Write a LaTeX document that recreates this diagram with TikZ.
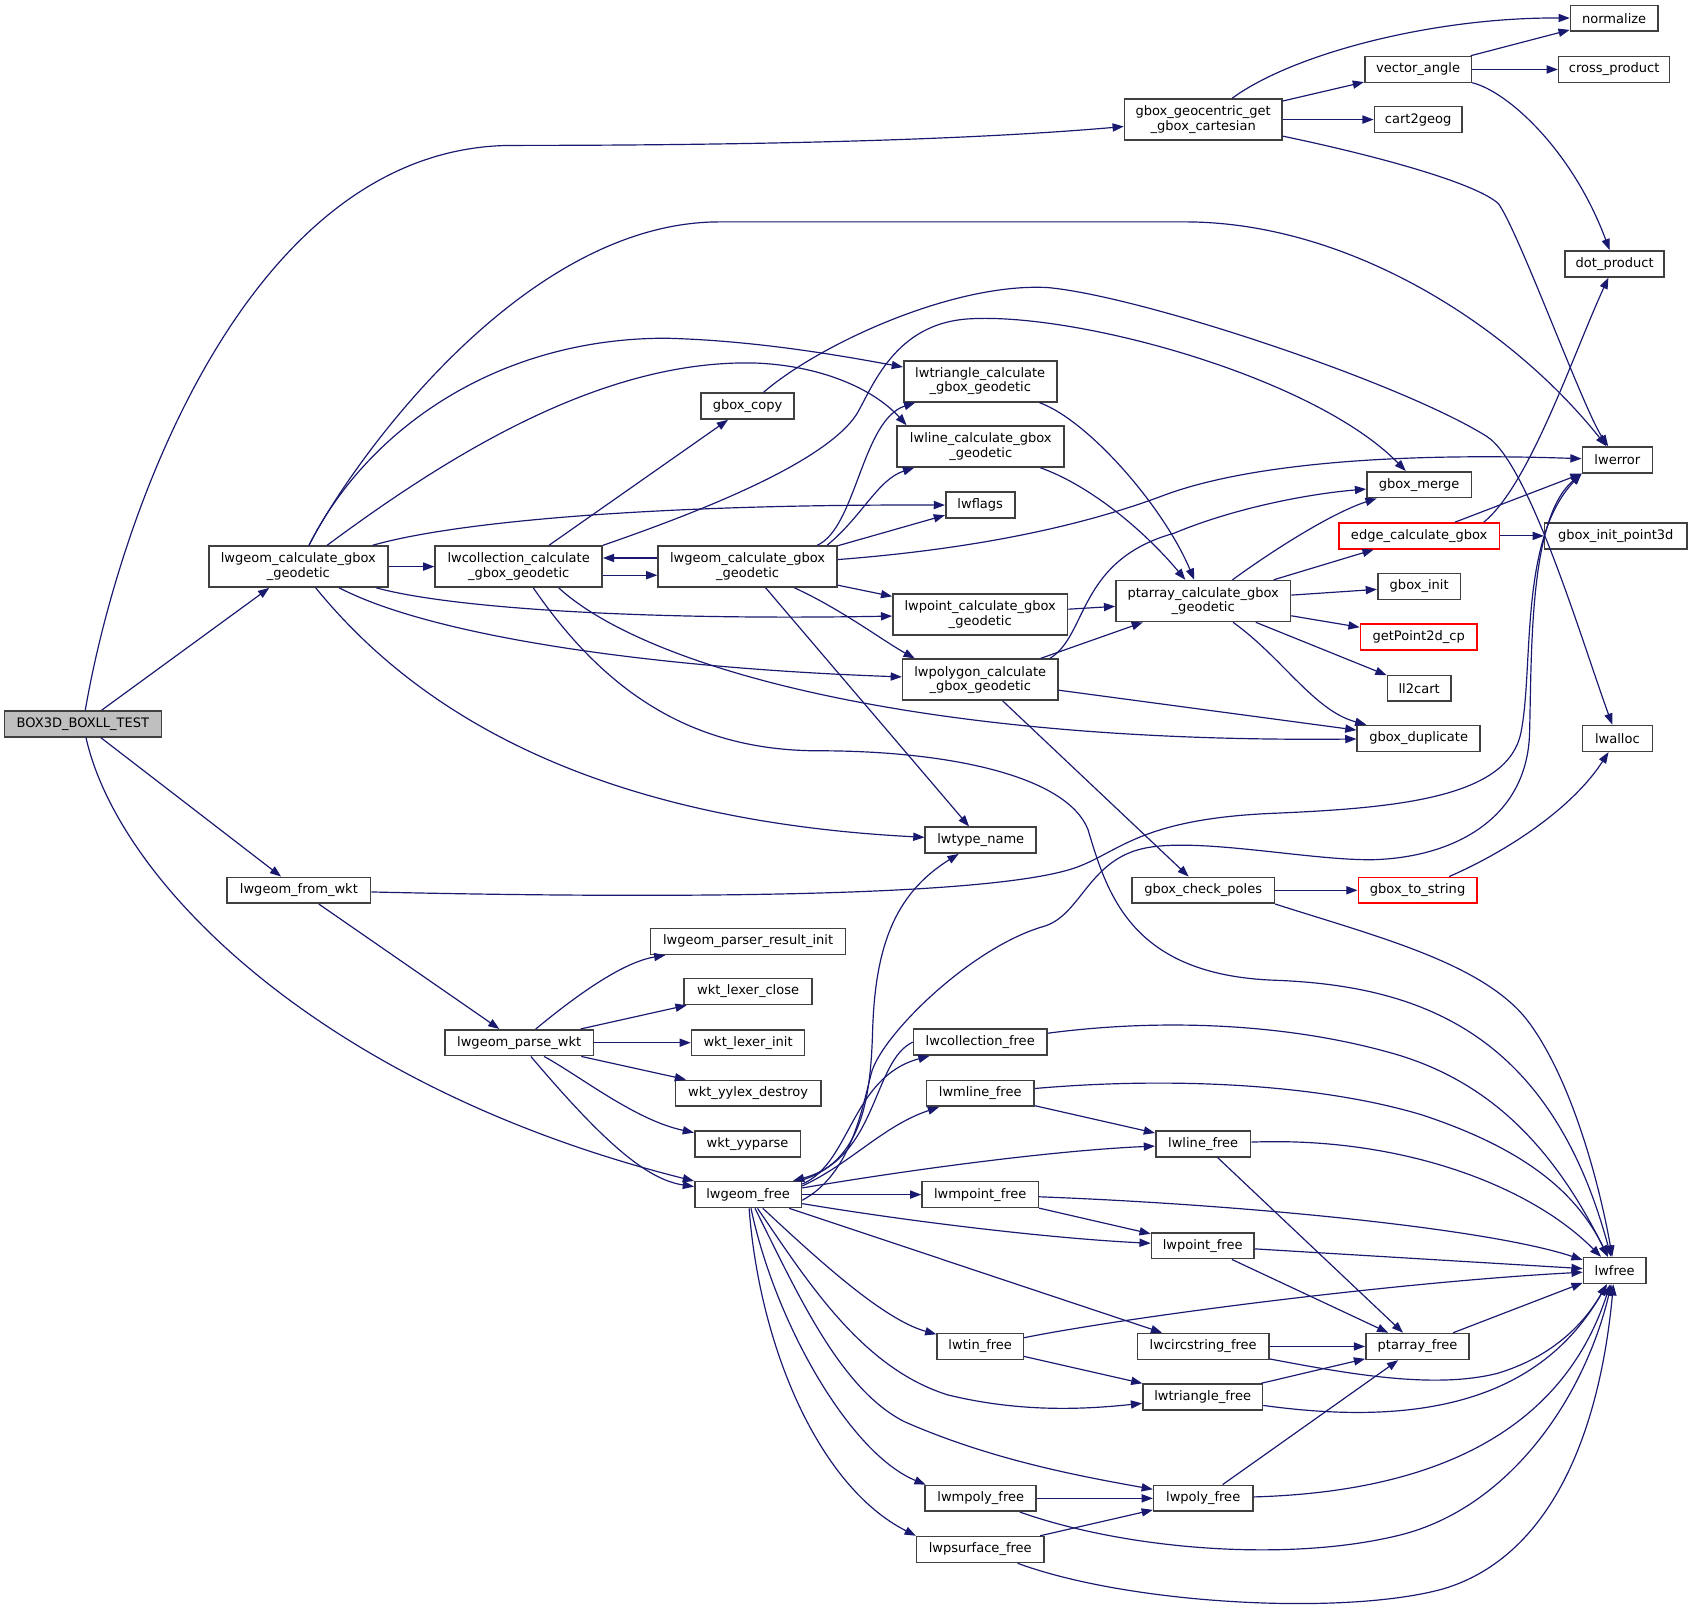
\documentclass[tikz,border=0pt]{standalone}
\usepackage{fontspec}
\newfontfamily\dvs{DejaVu Sans}
\usetikzlibrary{arrows.meta,calc}
\definecolor{edgeblue}{HTML}{191970}
\definecolor{boxline}{HTML}{404040}
\definecolor{boxgray}{HTML}{BFBFBF}
\begin{document}
\begin{tikzpicture}[x=0.5pt,y=-0.5pt,
  fn/.style={draw=boxline, line width=0.75pt, fill=white, inner sep=0pt, align=center,
    font=\dvs\fontsize{6.05}{6.6}\selectfont, minimum height=12pt},
  two/.style={minimum height=19pt},
  bw/.style={minimum width=#1*0.5pt},
  redbox/.style={draw=red},
  cedge/.style={draw=edgeblue, line width=0.55pt, -{Triangle[length=5.2pt,width=3.8pt]}},
]
\useasboundingbox (0,0) rectangle (1568,1496.6);
% ---------------- nodes
\node[fn, fill=boxgray, bw=146] (box3d) at (77,672) {BOX3D\_BOXLL\_TEST};
\node[fn, two, bw=146] (geoc) at (1117,111) {gbox\_geocentric\_get\\\_gbox\_cartesian};
\node[fn, bw=81] (normalize) at (1498.5,17) {normalize};
\node[fn, bw=99] (vecang) at (1316.5,64.5) {vector\_angle};
\node[fn, bw=103] (cross) at (1498.5,64.5) {cross\_product};
\node[fn, bw=81] (cart) at (1316.5,111) {cart2geog};
\node[fn, bw=92] (dot) at (1499,245) {dot\_product};
\node[fn, bw=65] (lwerror) at (1501.5,427) {lwerror};
\node[fn, two, bw=142] (tricalc) at (910,354) {lwtriangle\_calculate\\\_gbox\_geodetic};
\node[fn, bw=86] (gboxcopy) at (694,377) {gbox\_copy};
\node[fn, two, bw=155] (linecalc) at (910.5,414.5) {lwline\_calculate\_gbox\\\_geodetic};
\node[fn, bw=97] (gboxmerge) at (1317.5,450) {gbox\_merge};
\node[fn, bw=64] (lwflags) at (910,469) {lwflags};
\node[fn, redbox, bw=149] (edgecalc) at (1317.5,497.5) {edge\_calculate\_gbox};
\node[fn, bw=132] (initp3d) at (1500,497.5) {gbox\_init\_point3d};
\node[fn, two, bw=166] (L1) at (277,526) {lwgeom\_calculate\_gbox\\\_geodetic};
\node[fn, two, bw=155] (coll) at (481.5,526) {lwcollection\_calculate\\\_gbox\_geodetic};
\node[fn, two, bw=166] (M) at (694,526) {lwgeom\_calculate\_gbox\\\_geodetic};
\node[fn, two, bw=162] (pointcalc) at (910,570.5) {lwpoint\_calculate\_gbox\\\_geodetic};
\node[fn, two, bw=162] (ptarraycalc) at (1117,558) {ptarray\_calculate\_gbox\\\_geodetic};
\node[fn, bw=77] (gboxinit) at (1317.5,544.5) {gbox\_init};
\node[fn, redbox, bw=108] (getpoint) at (1317,591.5) {getPoint2d\_cp};
\node[fn, two, bw=144] (polycalc) at (910,631) {lwpolygon\_calculate\\\_gbox\_geodetic};
\node[fn, bw=59] (ll2cart) at (1317.5,639) {ll2cart};
\node[fn, bw=114] (gboxdup) at (1317,685.5) {gbox\_duplicate};
\node[fn, bw=65] (lwalloc) at (1501.5,685.5) {lwalloc};
\node[fn, bw=103] (lwtype) at (910.5,780) {lwtype\_name};
\node[fn, bw=133] (fromwkt) at (277.5,826.5) {lwgeom\_from\_wkt};
\node[fn, bw=132] (checkpoles) at (1117,826.5) {gbox\_check\_poles};
\node[fn, redbox, bw=110] (tostring) at (1316,826.5) {gbox\_to\_string};
\node[fn, bw=181] (parserinit) at (694.5,874) {lwgeom\_parser\_result\_init};
\node[fn, bw=119] (lexclose) at (694.5,920.5) {wkt\_lexer\_close};
\node[fn, bw=138] (parsewkt) at (482,968) {lwgeom\_parse\_wkt};
\node[fn, bw=105] (lexinit) at (694.5,968) {wkt\_lexer\_init};
\node[fn, bw=124] (collfree) at (910,967.5) {lwcollection\_free};
\node[fn, bw=135] (yylex) at (694.5,1015) {wkt\_yylex\_destroy};
\node[fn, bw=100] (mlinefree) at (910,1015) {lwmline\_free};
\node[fn, bw=98] (yyparse) at (694,1062) {wkt\_yyparse};
\node[fn, bw=88] (linefree) at (1117,1062) {lwline\_free};
\node[fn, bw=99] (geomfree) at (694.5,1109) {lwgeom\_free};
\node[fn, bw=108] (mpointfree) at (910,1109) {lwmpoint\_free};
\node[fn, bw=95] (pointfree) at (1116.5,1156.5) {lwpoint\_free};
\node[fn, bw=58] (lwfree) at (1499,1179.5) {lwfree};
\node[fn, bw=80] (tinfree) at (910,1250) {lwtin\_free};
\node[fn, bw=122] (circfree) at (1117,1250) {lwcircstring\_free};
\node[fn, bw=96] (ptarrayfree) at (1316,1250) {ptarray\_free};
\node[fn, bw=111] (trifree) at (1116.5,1297) {lwtriangle\_free};
\node[fn, bw=103] (mpolyfree) at (910.5,1391) {lwmpoly\_free};
\node[fn, bw=92] (polyfree) at (1117,1391) {lwpoly\_free};
\node[fn, bw=118] (psurffree) at (910,1438.5) {lwpsurface\_free};
% ---------------- edges
% BOX3D_BOXLL_TEST
\draw[cedge] (box3d) .. controls (110,480) and (230,135) .. (476,135) .. controls (700,135) and (900,130) .. (geoc);
\draw[cedge] (box3d) -- (L1);
\draw[cedge] (box3d) -- (fromwkt);
\draw[cedge] (box3d) .. controls (110,820) and (300,1010) .. (geomfree);
% gbox_geocentric_get_gbox_cartesian
\draw[cedge] (geoc) .. controls (1200,50) and (1330,16) .. (normalize);
\draw[cedge] (geoc) -- (vecang);
\draw[cedge] (geoc) -- (cart);
\draw[cedge] (geoc) .. controls (1280,145) and (1370,170) .. (1391,189) .. controls (1410,215) and (1470,380) .. (lwerror);
% vector_angle
\draw[cedge] (vecang) -- (normalize);
\draw[cedge] (vecang) -- (cross);
\draw[cedge] (vecang) .. controls (1400,85) and (1460,140) .. (dot);
% lwgeom_calculate_gbox_geodetic (left)
\draw[cedge] (L1) .. controls (320,440) and (480,206) .. (668,206) -- (1100,206) .. controls (1250,206) and (1400,300) .. (lwerror);
\draw[cedge] (L1) .. controls (340,400) and (460,314) .. (618,314) .. controls (700,316) and (780,330) .. (tricalc);
\draw[cedge] (L1) .. controls (420,420) and (560,334) .. (700,337) .. controls (760,339) and (810,360) .. (linecalc.164);
\draw[cedge] (L1) .. controls (420,485) and (600,468) .. (lwflags);
\draw[cedge] (L1) -- (coll);
\draw[cedge] (L1) .. controls (420,565) and (600,576) .. (pointcalc);
\draw[cedge] (L1) .. controls (400,590) and (600,620) .. (polycalc);
\draw[cedge] (L1) .. controls (370,640) and (520,760) .. (lwtype);
% lwcollection_calculate_gbox_geodetic
\draw[cedge] (coll) -- (gboxcopy);
\draw[cedge] (coll.north east) .. controls (650,475) and (765,430) .. (795,385) .. controls (810,360) and (830,300) .. (900,296) .. controls (1000,290) and (1220,350) .. (gboxmerge);
\draw[cedge] ($(coll.east)+(0,8)$) -- ($(M.west)+(0,8)$);
\draw[cedge] (coll.-28) .. controls (600,620) and (850,690) .. (gboxdup);
\draw[cedge] (coll) .. controls (560,640) and (640,697) .. (760,697) .. controls (880,697) and (990,720) .. (1010,770) .. controls (1028,830) and (1050,905) .. (1183,910) .. controls (1320,915) and (1440,960) .. (lwfree);
% lwgeom_calculate_gbox_geodetic (middle)
\draw[cedge] ($(M.west)+(0,-8)$) -- ($(coll.east)+(0,-8)$);
\draw[cedge] (M.17) .. controls (795,490) and (800,390) .. (tricalc);
\draw[cedge] (M.15) .. controls (800,480) and (815,445) .. (linecalc);
\draw[cedge] (M.13) -- (lwflags);
\draw[cedge] (M) .. controls (900,510) and (1000,490) .. (1080,460) .. controls (1160,430) and (1300,420) .. (lwerror);
\draw[cedge] (M) -- (pointcalc);
\draw[cedge] (M) .. controls (780,565) and (820,595) .. (polycalc.162);
\draw[cedge] (M) -- (lwtype);
% gbox_copy
\draw[cedge] (gboxcopy) .. controls (760,320) and (885,262) .. (973,267) .. controls (1060,275) and (1300,355) .. (1380,405) .. controls (1420,430) and (1470,600) .. (lwalloc);
% second-level calculators
\draw[cedge] (tricalc) .. controls (1010,390) and (1080,470) .. (ptarraycalc);
\draw[cedge] (linecalc) .. controls (1010,450) and (1060,490) .. (ptarraycalc);
\draw[cedge] (pointcalc) -- (ptarraycalc);
\draw[cedge] (polycalc) -- (ptarraycalc);
\draw[cedge] (polycalc.17) .. controls (1010,590) and (1000,520) .. (1090,495) .. controls (1150,470) and (1220,458) .. (gboxmerge);
\draw[cedge] (polycalc) -- (gboxdup);
\draw[cedge] (polycalc) -- (checkpoles);
% ptarray_calculate_gbox_geodetic
\draw[cedge] (ptarraycalc) .. controls (1190,505) and (1240,475) .. (gboxmerge);
\draw[cedge] (ptarraycalc) -- (edgecalc);
\draw[cedge] (ptarraycalc) -- (gboxinit);
\draw[cedge] (ptarraycalc) -- (getpoint);
\draw[cedge] (ptarraycalc) -- (ll2cart);
\draw[cedge] (ptarraycalc) .. controls (1190,610) and (1220,660) .. (gboxdup);
% edge_calculate_gbox
\draw[cedge] (edgecalc) -- (lwerror);
\draw[cedge] (edgecalc.12) .. controls (1420,450) and (1460,330) .. (dot);
\draw[cedge] (edgecalc) -- (initp3d);
% gbox_check_poles, gbox_to_string
\draw[cedge] (checkpoles) -- (tostring);
\draw[cedge] (checkpoles.south east) .. controls (1280,870) and (1380,895) .. (1420,950) .. controls (1460,1005) and (1485,1100) .. (lwfree);
\draw[cedge] (tostring) .. controls (1400,790) and (1460,750) .. (lwalloc);
% lwgeom_from_wkt, lwgeom_parse_wkt
\draw[cedge] (fromwkt) .. controls (600,834) and (920,834) .. (1000,805) .. controls (1040,790) and (1060,760) .. (1183,755) .. controls (1300,750) and (1400,740) .. (1412,680) .. controls (1424,620) and (1410,500) .. (lwerror.south west);
\draw[cedge] (fromwkt) -- (parsewkt);
\draw[cedge] (parsewkt) .. controls (540,920) and (580,893) .. (parserinit);
\draw[cedge] (parsewkt) -- (lexclose);
\draw[cedge] (parsewkt) -- (lexinit);
\draw[cedge] (parsewkt) -- (yylex);
\draw[cedge] (parsewkt) .. controls (540,1000) and (590,1040) .. (yyparse);
\draw[cedge] (parsewkt) .. controls (560,1060) and (600,1095) .. (geomfree);
% lwgeom_free
\draw[cedge] (collfree.west) .. controls (810,985) and (815,1075) .. (geomfree.17);
\draw[cedge] (geomfree.11) .. controls (790,1080) and (790,1000) .. (collfree);
\draw[cedge] (geomfree.9) .. controls (790,1080) and (820,1045) .. (mlinefree);
\draw[cedge] (geomfree.15) .. controls (800,1080) and (808,1020) .. (810,960) .. controls (812,880) and (830,830) .. (lwtype);
\draw[cedge] (geomfree.-6) .. controls (790,1090) and (800,1030) .. (809,996) .. controls (818,962) and (900,880) .. (969,860) .. controls (1003,850) and (1010,800) .. (1060,788) .. controls (1110,776) and (1220,800) .. (1278,798) .. controls (1350,795) and (1418,760) .. (1420,680) .. controls (1422,600) and (1420,480) .. (lwerror.south west);
\draw[cedge] (geomfree.7) .. controls (850,1085) and (980,1068) .. (linefree);
\draw[cedge] (geomfree) -- (mpointfree);
\draw[cedge] (geomfree) .. controls (850,1135) and (980,1150) .. (pointfree);
\draw[cedge] (geomfree) -- (circfree);
\draw[cedge] (geomfree) .. controls (760,1170) and (820,1225) .. (tinfree);
\draw[cedge] (geomfree) .. controls (750,1190) and (800,1270) .. (880,1295) .. controls (950,1312) and (1010,1308) .. (trifree);
\draw[cedge] (geomfree) .. controls (740,1200) and (780,1290) .. (840,1320) .. controls (920,1355) and (1000,1370) .. (polyfree);
\draw[cedge] (geomfree) .. controls (720,1230) and (790,1350) .. (mpolyfree.166);
\draw[cedge] (geomfree) .. controls (705,1250) and (760,1380) .. (psurffree.north west);
% free functions
\draw[cedge] (collfree) .. controls (1080,945) and (1200,950) .. (1300,980) .. controls (1380,1005) and (1440,1060) .. (lwfree);
\draw[cedge] (mlinefree) .. controls (1080,1000) and (1220,1005) .. (1320,1035) .. controls (1420,1068) and (1465,1110) .. (lwfree);
\draw[cedge] (mlinefree) -- (linefree);
\draw[cedge] (linefree) .. controls (1300,1055) and (1420,1100) .. (lwfree);
\draw[cedge] (linefree) -- (ptarrayfree);
\draw[cedge] (mpointfree) .. controls (1150,1118) and (1380,1140) .. (lwfree);
\draw[cedge] (mpointfree) -- (pointfree);
\draw[cedge] (pointfree) -- (lwfree);
\draw[cedge] (pointfree) -- (ptarrayfree);
\draw[cedge] (tinfree) .. controls (1050,1222) and (1300,1190) .. (lwfree);
\draw[cedge] (tinfree) -- (trifree);
\draw[cedge] (circfree) -- (ptarrayfree);
\draw[cedge] (circfree) .. controls (1250,1275) and (1330,1290) .. (1390,1275) .. controls (1440,1260) and (1470,1230) .. (lwfree);
\draw[cedge] (trifree) -- (ptarrayfree);
\draw[cedge] (trifree) .. controls (1320,1325) and (1430,1300) .. (lwfree);
\draw[cedge] (ptarrayfree) -- (lwfree);
\draw[cedge] (polyfree) -- (ptarrayfree);
\draw[cedge] (polyfree) .. controls (1330,1385) and (1450,1330) .. (lwfree);
\draw[cedge] (mpolyfree) -- (polyfree);
\draw[cedge] (mpolyfree) .. controls (1050,1440) and (1200,1450) .. (1300,1425) .. controls (1400,1400) and (1470,1300) .. (lwfree);
\draw[cedge] (psurffree) -- (polyfree);
\draw[cedge] (psurffree) .. controls (1050,1490) and (1250,1500) .. (1340,1475) .. controls (1440,1445) and (1485,1330) .. (lwfree);
\end{tikzpicture}
\end{document}
